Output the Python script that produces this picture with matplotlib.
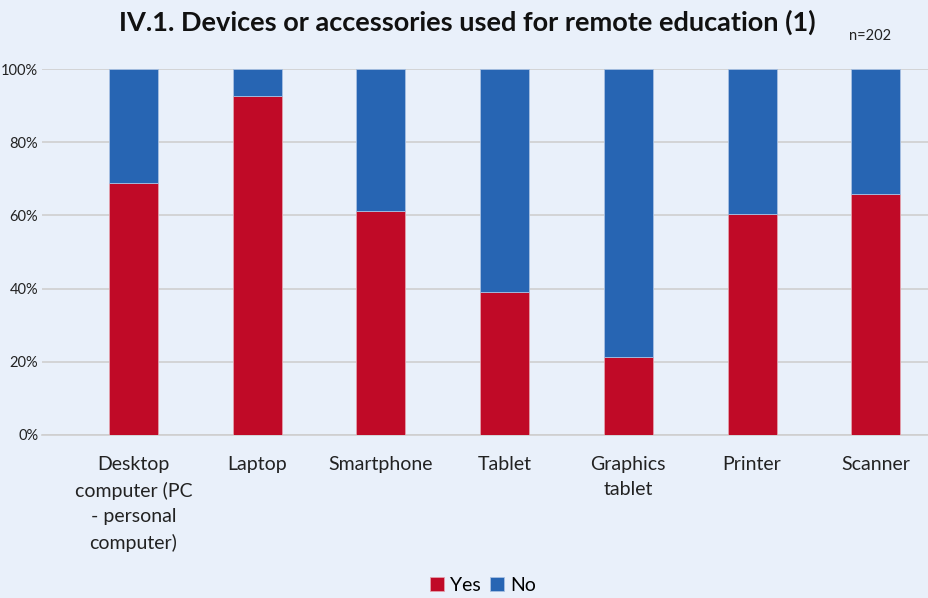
import matplotlib
matplotlib.use("Agg")
import matplotlib.pyplot as plt
from matplotlib.ticker import FuncFormatter

plt.rcParams['font.family'] = ['Lato', 'DejaVu Sans']

categories = ['Desktop\ncomputer (PC\n- personal\ncomputer)', 'Laptop', 'Smartphone',
              'Tablet', 'Graphics\ntablet', 'Printer', 'Scanner']
yes_pct = [68.9, 92.6, 61.2, 39.1, 21.3, 60.4, 65.8]
no_pct = [100 - v for v in yes_pct]

bg = '#E9F0FA'
red = '#C00A27'
blue = '#2765B3'

fig = plt.figure(figsize=(9.29, 5.98), dpi=100, facecolor=bg)
ax = fig.add_axes([0.045, 0.2726, 0.955, 0.612], facecolor=bg)

x = range(len(categories))
ax.bar(x, yes_pct, width=0.396, color=red, edgecolor='#E3A0AC', linewidth=0.6, label='Yes', zorder=3)
ax.bar(x, no_pct, width=0.396, bottom=yes_pct, color=blue, edgecolor='#A8C0E2', linewidth=0.6, label='No', zorder=3)

ax.set_xlim(-0.74, 6.43)
ax.set_ylim(0, 100)
ax.set_yticks(range(0, 101, 20))
ax.yaxis.set_major_formatter(FuncFormatter(lambda v, _: f'{v:.0f}%'))
ax.set_xticks(list(x))
ax.set_xticklabels(categories, fontsize=14, color='#222222', linespacing=1.6)
ax.tick_params(axis='y', labelsize=10.5, colors='#222222', length=0, pad=2.5)
ax.tick_params(axis='x', length=0, pad=15)
ax.grid(axis='y', color='#CFCFCF', linewidth=1.2, zorder=0)
for s in ['top', 'right', 'left']:
    ax.spines[s].set_visible(False)
ax.spines['bottom'].set_color('#CFCFCF')
ax.spines['bottom'].set_linewidth(1.2)

fig.text(0.503, 0.962, 'IV.1. Devices or accessories used for remote education (1)',
         ha='center', va='center', fontsize=19.5, fontweight='bold', color='#111111')
fig.text(0.937, 0.94, 'n=202', ha='center', va='center', fontsize=10.5, color='#222222')

fig.legend(loc='lower center', bbox_to_anchor=(0.52, -0.022), ncol=2, frameon=False,
           fontsize=14, handlelength=0.7, handleheight=0.7, handletextpad=0.3,
           columnspacing=0.5)

fig.savefig('out.png', dpi=100, facecolor=bg)
